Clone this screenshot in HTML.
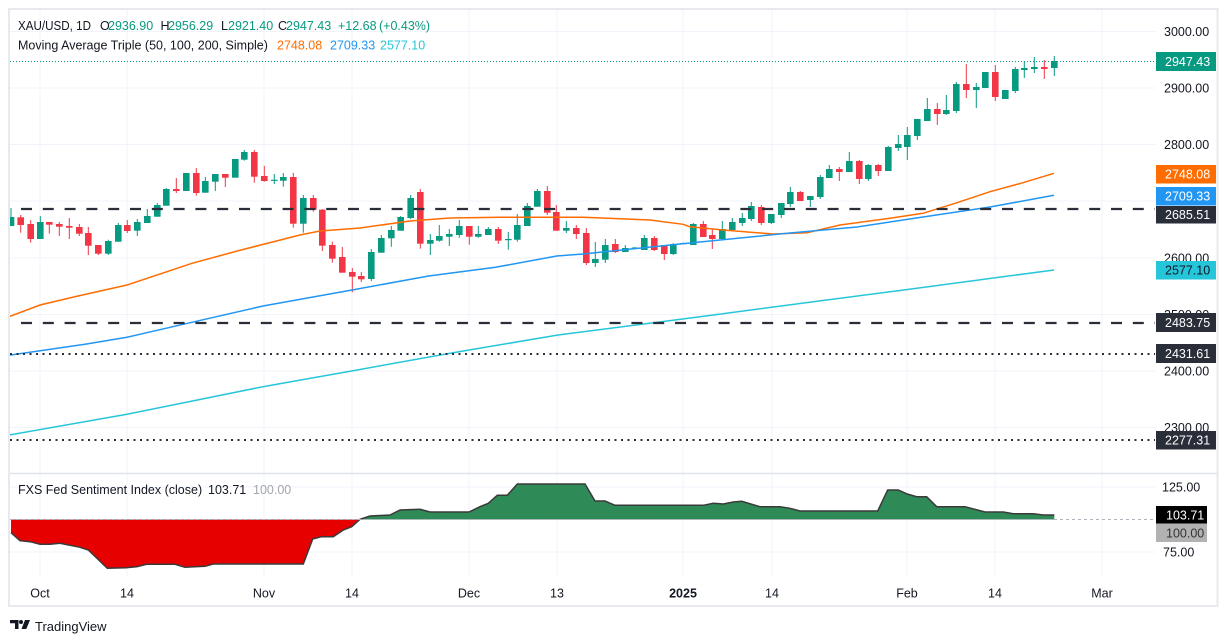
<!DOCTYPE html>
<html><head><meta charset="utf-8"><style>
html,body{margin:0;padding:0;background:#fff;}
svg{display:block;font-family:"Liberation Sans",sans-serif;}
</style></head><body>
<svg width="1228" height="644" viewBox="0 0 1228 644" xmlns="http://www.w3.org/2000/svg">
<defs>
<clipPath id="pc"><rect x="10" y="10" width="1145" height="463"/></clipPath>
<clipPath id="up"><rect x="10" y="474" width="1145" height="45.5"/></clipPath>
<clipPath id="dn"><rect x="10" y="519.5" width="1145" height="58"/></clipPath>
</defs>
<rect width="1228" height="644" fill="#fff"/>
<!-- grid -->
<g stroke="#f0f3fa" stroke-width="1">
<line x1="40" y1="10" x2="40" y2="577"/><line x1="127" y1="10" x2="127" y2="577"/><line x1="264" y1="10" x2="264" y2="577"/><line x1="352" y1="10" x2="352" y2="577"/><line x1="469" y1="10" x2="469" y2="577"/><line x1="557" y1="10" x2="557" y2="577"/><line x1="683" y1="10" x2="683" y2="577"/><line x1="772" y1="10" x2="772" y2="577"/><line x1="907" y1="10" x2="907" y2="577"/><line x1="995" y1="10" x2="995" y2="577"/><line x1="1102" y1="10" x2="1102" y2="577"/>
<line x1="10" y1="31.5" x2="1155" y2="31.5"/><line x1="10" y1="88" x2="1155" y2="88"/><line x1="10" y1="144.5" x2="1155" y2="144.5"/><line x1="10" y1="201" x2="1155" y2="201"/><line x1="10" y1="258" x2="1155" y2="258"/><line x1="10" y1="314.5" x2="1155" y2="314.5"/><line x1="10" y1="371" x2="1155" y2="371"/><line x1="10" y1="427.5" x2="1155" y2="427.5"/>
<line x1="10" y1="487" x2="1155" y2="487"/><line x1="10" y1="552" x2="1155" y2="552"/>
</g>
<g clip-path="url(#pc)">
<!-- green candles -->
<g fill="#089981">
<rect x="10.5" y="208" width="1" height="18"/><rect x="7.7" y="217" width="6.6" height="9"/>
<rect x="39.8" y="216" width="1" height="23"/><rect x="37" y="222" width="6.6" height="17"/>
<rect x="107.8" y="239.7" width="1" height="15.3"/><rect x="105" y="241" width="6.6" height="12.7"/>
<rect x="117.8" y="223" width="1" height="18.7"/><rect x="115" y="225" width="6.6" height="16.7"/>
<rect x="136.8" y="219" width="1" height="17"/><rect x="134" y="222" width="6.6" height="8.7"/>
<rect x="146.8" y="209" width="1" height="14"/><rect x="144" y="216" width="6.6" height="7"/>
<rect x="156.8" y="203" width="1" height="13.7"/><rect x="154" y="205" width="6.6" height="11.7"/>
<rect x="165.8" y="188" width="1" height="17.7"/><rect x="163" y="189" width="6.6" height="16.7"/>
<rect x="185.8" y="173" width="1" height="18"/><rect x="183" y="173" width="6.6" height="18"/>
<rect x="204.8" y="177" width="1" height="15.7"/><rect x="202" y="181" width="6.6" height="11.7"/>
<rect x="214.8" y="174" width="1" height="17"/><rect x="212" y="174" width="6.6" height="7.7"/>
<rect x="234.8" y="159" width="1" height="18.7"/><rect x="232" y="159" width="6.6" height="18.7"/>
<rect x="243.8" y="150" width="1" height="10.7"/><rect x="241" y="152" width="6.6" height="7.7"/>
<rect x="273.8" y="174" width="1" height="10"/><rect x="271" y="179.7" width="6.6" height="1.2"/>
<rect x="282.8" y="173" width="1" height="13.7"/><rect x="280" y="177" width="6.6" height="3.7"/>
<rect x="302.8" y="195" width="1" height="37.7"/><rect x="300" y="198" width="6.6" height="25.7"/>
<rect x="370.8" y="249" width="1" height="32"/><rect x="368" y="252" width="6.6" height="27"/>
<rect x="380.8" y="235" width="1" height="17.7"/><rect x="378" y="238" width="6.6" height="14.7"/>
<rect x="390.8" y="226" width="1" height="20.7"/><rect x="388" y="230" width="6.6" height="8.3"/>
<rect x="400.2" y="216" width="1" height="14.7"/><rect x="397.4" y="217" width="6.6" height="13.7"/>
<rect x="410.2" y="195" width="1" height="24"/><rect x="407.4" y="198" width="6.6" height="20"/>
<rect x="429.8" y="234" width="1" height="21"/><rect x="427" y="240" width="6.6" height="3.7"/>
<rect x="438.8" y="225" width="1" height="16.7"/><rect x="436" y="236" width="6.6" height="4.7"/>
<rect x="448.8" y="229" width="1" height="17"/><rect x="446" y="234" width="6.6" height="2.7"/>
<rect x="458.8" y="220" width="1" height="17.7"/><rect x="456" y="226" width="6.6" height="9"/>
<rect x="477.8" y="226" width="1" height="11.7"/><rect x="475" y="234" width="6.6" height="2.7"/>
<rect x="487.8" y="227" width="1" height="8"/><rect x="485" y="229" width="6.6" height="6"/>
<rect x="507.8" y="232" width="1" height="17.7"/><rect x="505" y="239" width="6.6" height="1.2"/>
<rect x="516.8" y="214" width="1" height="27.7"/><rect x="514" y="225" width="6.6" height="14.7"/>
<rect x="526.8" y="203" width="1" height="23"/><rect x="524" y="206" width="6.6" height="20"/>
<rect x="536.8" y="189" width="1" height="17.7"/><rect x="534" y="191" width="6.6" height="15.7"/>
<rect x="565.8" y="221" width="1" height="12"/><rect x="563" y="228" width="6.6" height="2.7"/>
<rect x="594.8" y="242" width="1" height="25"/><rect x="592" y="259" width="6.6" height="4"/>
<rect x="604.8" y="239" width="1" height="24"/><rect x="602" y="245" width="6.6" height="14.7"/>
<rect x="624.8" y="245" width="1" height="7"/><rect x="622" y="248" width="6.6" height="4"/>
<rect x="634.5" y="247" width="1" height="2.5"/><rect x="631.7" y="247.5" width="6.6" height="1.2"/>
<rect x="643.8" y="235" width="1" height="15"/><rect x="641" y="238" width="6.6" height="12"/>
<rect x="672.8" y="243" width="1" height="12"/><rect x="670" y="244" width="6.6" height="10"/>
<rect x="682.8" y="242.5" width="1" height="2"/><rect x="680" y="243" width="6.6" height="1.2"/>
<rect x="692.8" y="223" width="1" height="22"/><rect x="690" y="224" width="6.6" height="21"/>
<rect x="721.8" y="221" width="1" height="18"/><rect x="719" y="229" width="6.6" height="10"/>
<rect x="731.8" y="218" width="1" height="13"/><rect x="729" y="222" width="6.6" height="8"/>
<rect x="741.8" y="213" width="1" height="13"/><rect x="739" y="218" width="6.6" height="5"/>
<rect x="750.8" y="202" width="1" height="19"/><rect x="748" y="206" width="6.6" height="13"/>
<rect x="770.8" y="214" width="1" height="10"/><rect x="768" y="214" width="6.6" height="9"/>
<rect x="780.8" y="203" width="1" height="15"/><rect x="778" y="203" width="6.6" height="12"/>
<rect x="789.8" y="187" width="1" height="20"/><rect x="787" y="192" width="6.6" height="12"/>
<rect x="809.8" y="196" width="1" height="11"/><rect x="807" y="196" width="6.6" height="4"/>
<rect x="819.8" y="175" width="1" height="24"/><rect x="817" y="177" width="6.6" height="20"/>
<rect x="828.8" y="165" width="1" height="13"/><rect x="826" y="169" width="6.6" height="9"/>
<rect x="848.8" y="152" width="1" height="20"/><rect x="846" y="161" width="6.6" height="11"/>
<rect x="867.8" y="164" width="1" height="17"/><rect x="865" y="165" width="6.6" height="14"/>
<rect x="887.8" y="146" width="1" height="25"/><rect x="885" y="147" width="6.6" height="24"/>
<rect x="897.8" y="135" width="1" height="16"/><rect x="895" y="144" width="6.6" height="4"/>
<rect x="906.8" y="127" width="1" height="33"/><rect x="904" y="135" width="6.6" height="12"/>
<rect x="916.8" y="119" width="1" height="21"/><rect x="914" y="119" width="6.6" height="17"/>
<rect x="926.8" y="98" width="1" height="23"/><rect x="924" y="109" width="6.6" height="12"/>
<rect x="945.8" y="95" width="1" height="20"/><rect x="943" y="110" width="6.6" height="4"/>
<rect x="955.8" y="82" width="1" height="31"/><rect x="953" y="84" width="6.6" height="27"/>
<rect x="975.8" y="83" width="1" height="25"/><rect x="973" y="87" width="6.6" height="3"/>
<rect x="984.8" y="72" width="1" height="16"/><rect x="982" y="72" width="6.6" height="16"/>
<rect x="1004.8" y="90" width="1" height="9"/><rect x="1002" y="90" width="6.6" height="9"/>
<rect x="1014.8" y="67" width="1" height="26"/><rect x="1012" y="69" width="6.6" height="22"/>
<rect x="1023.8" y="61" width="1" height="17"/><rect x="1021" y="68" width="6.6" height="2"/>
<rect x="1033.8" y="57" width="1" height="16"/><rect x="1031" y="67" width="6.6" height="2"/>
<rect x="1053.8" y="56" width="1" height="20"/><rect x="1051" y="61" width="6.6" height="7"/>
</g>
<!-- red candles -->
<g fill="#f23645">
<rect x="20.2" y="215" width="1" height="17.7"/><rect x="17.4" y="217.3" width="6.6" height="7.7"/>
<rect x="30.2" y="220" width="1" height="22.7"/><rect x="27.4" y="224" width="6.6" height="15"/>
<rect x="48.8" y="222" width="1" height="11.7"/><rect x="46" y="222" width="6.6" height="2.7"/>
<rect x="58.8" y="222" width="1" height="14"/><rect x="56" y="224" width="6.6" height="2.7"/>
<rect x="68.8" y="218" width="1" height="21"/><rect x="66" y="226" width="6.6" height="1.7"/>
<rect x="78.8" y="224" width="1" height="12"/><rect x="76" y="227" width="6.6" height="6.7"/>
<rect x="87.8" y="227" width="1" height="28"/><rect x="85" y="233" width="6.6" height="12.7"/>
<rect x="97.8" y="245" width="1" height="10"/><rect x="95" y="245" width="6.6" height="8.7"/>
<rect x="126.8" y="220" width="1" height="13"/><rect x="124" y="225" width="6.6" height="6"/>
<rect x="175.8" y="178" width="1" height="15"/><rect x="173" y="189" width="6.6" height="2"/>
<rect x="195.8" y="168" width="1" height="27.7"/><rect x="193" y="173" width="6.6" height="20"/>
<rect x="224.8" y="174" width="1" height="13"/><rect x="222" y="174" width="6.6" height="3.7"/>
<rect x="253.8" y="150" width="1" height="32.7"/><rect x="251" y="152" width="6.6" height="24.7"/>
<rect x="263.8" y="166" width="1" height="15.7"/><rect x="261" y="176" width="6.6" height="5"/>
<rect x="292.8" y="173" width="1" height="54.7"/><rect x="290" y="177" width="6.6" height="46.7"/>
<rect x="312.8" y="195" width="1" height="16.7"/><rect x="310" y="198" width="6.6" height="11.7"/>
<rect x="321.8" y="209" width="1" height="42"/><rect x="319" y="209.7" width="6.6" height="36"/>
<rect x="331.8" y="241.7" width="1" height="21"/><rect x="329" y="245" width="6.6" height="13.7"/>
<rect x="341.8" y="247" width="1" height="25.7"/><rect x="339" y="257" width="6.6" height="15.7"/>
<rect x="351.8" y="268" width="1" height="24.3"/><rect x="349" y="272" width="6.6" height="4.7"/>
<rect x="360.8" y="272" width="1" height="10"/><rect x="358" y="276" width="6.6" height="3.3"/>
<rect x="419.8" y="189" width="1" height="59.7"/><rect x="417" y="192" width="6.6" height="51.7"/>
<rect x="468.8" y="226" width="1" height="18.7"/><rect x="466" y="226" width="6.6" height="10.7"/>
<rect x="497.8" y="227" width="1" height="17"/><rect x="495" y="229" width="6.6" height="11.7"/>
<rect x="546.8" y="186" width="1" height="29"/><rect x="544" y="191" width="6.6" height="21.7"/>
<rect x="555.8" y="205" width="1" height="25.7"/><rect x="553" y="212" width="6.6" height="18.7"/>
<rect x="575.8" y="225" width="1" height="14"/><rect x="573" y="228" width="6.6" height="6"/>
<rect x="585.8" y="228" width="1" height="37"/><rect x="583" y="233" width="6.6" height="30"/>
<rect x="614.8" y="239" width="1" height="14"/><rect x="612" y="244" width="6.6" height="8"/>
<rect x="653.8" y="236" width="1" height="15"/><rect x="651" y="238" width="6.6" height="12"/>
<rect x="663.8" y="245" width="1" height="15"/><rect x="661" y="245" width="6.6" height="9"/>
<rect x="702.8" y="221" width="1" height="16"/><rect x="700" y="224" width="6.6" height="13"/>
<rect x="711.8" y="229" width="1" height="20"/><rect x="709" y="235" width="6.6" height="4"/>
<rect x="760.8" y="205" width="1" height="20"/><rect x="758" y="207" width="6.6" height="16"/>
<rect x="799.8" y="191" width="1" height="10"/><rect x="797" y="192" width="6.6" height="9"/>
<rect x="838.8" y="167" width="1" height="14"/><rect x="836" y="169" width="6.6" height="3"/>
<rect x="858.8" y="160" width="1" height="24"/><rect x="856" y="161" width="6.6" height="18"/>
<rect x="877.8" y="164" width="1" height="12"/><rect x="875" y="165" width="6.6" height="6"/>
<rect x="936.8" y="103" width="1" height="22"/><rect x="934" y="109" width="6.6" height="5"/>
<rect x="965.8" y="64" width="1" height="34"/><rect x="963" y="84" width="6.6" height="6"/>
<rect x="994.8" y="65" width="1" height="36"/><rect x="992" y="72" width="6.6" height="25"/>
<rect x="1043.8" y="60" width="1" height="19"/><rect x="1041" y="67" width="6.6" height="2"/>
</g>
<!-- moving averages -->
<polyline fill="none" stroke="#ff6d00" stroke-width="1.5" points="9,316.7 40,305 78,296 127,285 192,263.3 241,250 300,235 320,231 360,228 410,221 450,218 500,217.3 583,217.3 650,220 683,224.3 690,226.7 723,230 773,234 807,232.7 840,225 890,218.3 923,213.3 957,202.7 990,191.7 1023,182.7 1054,173.3"/>
<polyline fill="none" stroke="#2196f3" stroke-width="1.5" points="9,355.3 85,344.3 127,337.3 187.5,323.3 263,306 352,290 428.6,276 495.5,267.3 556.7,256 583,254 690,243 790,233 857,227 923,217 990,207 1054,195.3"/>
<polyline fill="none" stroke="#26c6da" stroke-width="1.5" points="9,435 127,414.3 263,386.7 353,370.7 453,352.7 558,335 700,316.7 800,303.5 900,290.5 1054,270"/>
<!-- horizontal levels -->
<line x1="21" y1="209" x2="1155" y2="209" stroke="#2a2e39" stroke-width="2.2" stroke-dasharray="11 10.8"/>
<line x1="21" y1="323" x2="1155" y2="323" stroke="#2a2e39" stroke-width="2.2" stroke-dasharray="11 10.8"/>
<line x1="10" y1="354" x2="1155" y2="354" stroke="#2a2e39" stroke-width="2" stroke-dasharray="2 4.5"/>
<line x1="10" y1="440" x2="1155" y2="440" stroke="#2a2e39" stroke-width="2" stroke-dasharray="2 4.5"/>
<line x1="10" y1="61.5" x2="1155" y2="61.5" stroke="#089981" stroke-width="1" stroke-dasharray="1 2"/>
</g>
<!-- sentiment panel -->
<g>
<polygon clip-path="url(#up)" fill="#2e8b57" points="11,519.5 11,532.7 20,540.7 30,541.7 40,544.3 50,544.3 60,543.3 80,547.3 88.3,550 107.3,568.3 126.7,567.7 136.7,566.7 146.7,564.3 175,564.3 185,567.3 205,566.3 213.3,564 303.3,564 312.7,539 321.7,536.7 333.3,536.7 343.3,530 351.7,526.7 360,519.3 370,516 390,515 400,510 420,509.3 430,512 469,512 480,506.7 488.3,503.3 497.3,495.3 507.3,495.3 517.3,484 585,484 595,501 605,501 615,505.3 703.3,505.3 713.3,503.3 723.3,504 733.3,502 741.7,501.3 760,506.7 780,506.7 790,508.3 800,511 877.7,511 887.7,490 898.3,490 907.3,494 916.7,496.7 926.7,496.7 936.7,506.7 965,506.7 985,512 1003.3,512 1013.3,513.7 1033.3,513.7 1043.3,515 1054.3,515 1054.3,519.5"/>
<polygon clip-path="url(#dn)" fill="#e60000" points="11,519.5 11,532.7 20,540.7 30,541.7 40,544.3 50,544.3 60,543.3 80,547.3 88.3,550 107.3,568.3 126.7,567.7 136.7,566.7 146.7,564.3 175,564.3 185,567.3 205,566.3 213.3,564 303.3,564 312.7,539 321.7,536.7 333.3,536.7 343.3,530 351.7,526.7 360,519.3 370,516 1054.3,515 1054.3,519.5"/>
<polyline fill="none" stroke="#3a3a3a" stroke-width="1.5" points="11,532.7 20,540.7 30,541.7 40,544.3 50,544.3 60,543.3 80,547.3 88.3,550 107.3,568.3 126.7,567.7 136.7,566.7 146.7,564.3 175,564.3 185,567.3 205,566.3 213.3,564 303.3,564 312.7,539 321.7,536.7 333.3,536.7 343.3,530 351.7,526.7 360,519.3 370,516 390,515 400,510 420,509.3 430,512 469,512 480,506.7 488.3,503.3 497.3,495.3 507.3,495.3 517.3,484 585,484 595,501 605,501 615,505.3 703.3,505.3 713.3,503.3 723.3,504 733.3,502 741.7,501.3 760,506.7 780,506.7 790,508.3 800,511 877.7,511 887.7,490 898.3,490 907.3,494 916.7,496.7 926.7,496.7 936.7,506.7 965,506.7 985,512 1003.3,512 1013.3,513.7 1033.3,513.7 1043.3,515 1054.3,515"/>
<line x1="10" y1="519.5" x2="1155" y2="519.5" stroke="#b2b5be" stroke-width="1" stroke-dasharray="3 3"/>
</g>
<!-- frame -->
<line x1="10" y1="473.5" x2="1217" y2="473.5" stroke="#e0e3eb" stroke-width="1.5"/>
<rect x="9" y="9" width="1208.5" height="597" fill="none" stroke="#e8e9ef" stroke-width="2"/>
<!-- legends -->
<g font-size="12.5" fill="#131722">
<text x="18" y="30" textLength="73" lengthAdjust="spacingAndGlyphs">XAU/USD, 1D</text>
<text x="100" y="30">O</text><text x="108" y="30" fill="#089981">2936.90</text>
<text x="160.5" y="30">H</text><text x="168" y="30" fill="#089981">2956.29</text>
<text x="221" y="30">L</text><text x="228" y="30" fill="#089981">2921.40</text>
<text x="278" y="30">C</text><text x="286" y="30" fill="#089981">2947.43</text>
<text x="338" y="30" fill="#089981">+12.68</text><text x="379" y="30" fill="#089981">(+0.43%)</text>
<text x="18" y="49.5">Moving Average Triple (50, 100, 200, Simple)</text>
<text x="277" y="49.5" fill="#ff6d00">2748.08</text>
<text x="330" y="49.5" fill="#2196f3">2709.33</text>
<text x="380" y="49.5" fill="#26c6da">2577.10</text>
<text x="18" y="494">FXS Fed Sentiment Index (close)</text>
<text x="208" y="494">103.71</text>
<text x="253" y="494" fill="#a3a6af">100.00</text>
</g>
<!-- right axis -->
<g font-size="12.5" fill="#131722">
<text x="1164" y="36">3000.00</text>
<text x="1164" y="92.5">2900.00</text>
<text x="1164" y="149">2800.00</text>
<text x="1164" y="262.5">2600.00</text>
<text x="1164" y="319">2500.00</text>
<text x="1164" y="375.5">2400.00</text>
<text x="1164" y="432">2300.00</text>
<text x="1162" y="491.5">125.00</text>
<text x="1163" y="556.5">75.00</text>
</g>
<g font-size="12.5">
<rect x="1156" y="52" width="60" height="19" fill="#089981"/><text x="1165" y="66" fill="#fff">2947.43</text>
<rect x="1156" y="165" width="60" height="18.5" fill="#ff6d00"/><text x="1165" y="178.5" fill="#fff">2748.08</text>
<rect x="1156" y="187" width="60" height="18.5" fill="#2196f3"/><text x="1165" y="200.5" fill="#fff">2709.33</text>
<rect x="1156" y="206" width="60" height="17.5" fill="#2a2e39"/><text x="1165" y="219" fill="#fff">2685.51</text>
<rect x="1156" y="261" width="60" height="18.5" fill="#26c6da"/><text x="1165" y="274.5" fill="#131722">2577.10</text>
<rect x="1156" y="313" width="60" height="19" fill="#2a2e39"/><text x="1165" y="327" fill="#fff">2483.75</text>
<rect x="1156" y="344" width="60" height="19" fill="#2a2e39"/><text x="1165" y="358" fill="#fff">2431.61</text>
<rect x="1156" y="431" width="60" height="18.5" fill="#2a2e39"/><text x="1165" y="444.5" fill="#fff">2277.31</text>
<rect x="1156" y="506" width="51" height="17.5" fill="#000"/><text x="1166" y="519.5" fill="#fff">103.71</text>
<rect x="1156" y="523.5" width="51" height="18.5" fill="#b2b2b2"/><text x="1166" y="537.5" fill="#333">100.00</text>
</g>
<!-- time axis -->
<g font-size="12.5" fill="#131722" text-anchor="middle">
<text x="40" y="597.5">Oct</text>
<text x="127" y="597.5">14</text>
<text x="264" y="597.5">Nov</text>
<text x="352" y="597.5">14</text>
<text x="469" y="597.5">Dec</text>
<text x="557" y="597.5">13</text>
<text x="683" y="597.5" font-weight="bold">2025</text>
<text x="772" y="597.5">14</text>
<text x="907" y="597.5">Feb</text>
<text x="995" y="597.5">14</text>
<text x="1102" y="597.5">Mar</text>
</g>
<!-- logo -->
<g fill="#131722">
<path d="M10 620 H18.5 V629 H15 V623.3 H10 Z"/>
<circle cx="21" cy="622" r="2"/>
<path d="M25 620 H30 L26.3 629 H21.5 Z"/>
<text x="35" y="631" font-size="13">TradingView</text>
</g>
</svg>
</body></html>
